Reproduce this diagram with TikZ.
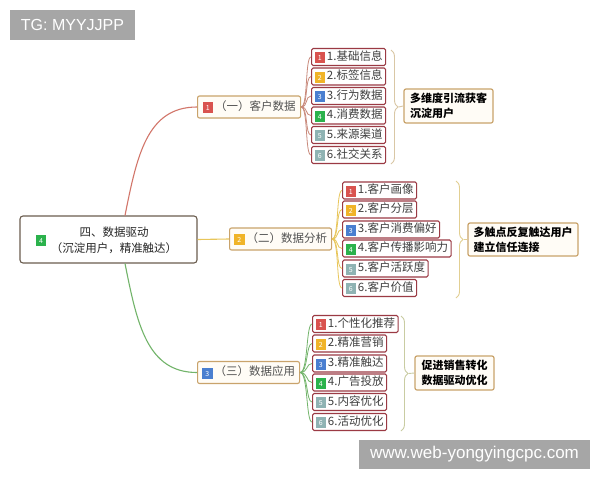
\documentclass[tikz,border=0pt]{standalone}
\usepackage{fontspec}
\setmainfont{Liberation Sans}
\newfontfamily\cjk{Noto Sans CJK SC}
\usetikzlibrary{decorations.pathreplacing}
\definecolor{bred}{HTML}{D9534F}
\definecolor{byel}{HTML}{F0B429}
\definecolor{bblue}{HTML}{4A7FD0}
\definecolor{bgreen}{HTML}{2BB24C}
\definecolor{bgray}{HTML}{8FB3B3}
\definecolor{leafborder}{HTML}{9B3A44}
\definecolor{leaftext}{HTML}{3F3F3F}
\definecolor{brborder}{HTML}{C9A36B}
\definecolor{brfill}{HTML}{FFFCF6}
\definecolor{rootborder}{HTML}{6B5D4F}
\definecolor{redline}{HTML}{D2766A}
\definecolor{yelline}{HTML}{E8C65A}
\definecolor{grnline}{HTML}{72B46A}
\definecolor{fan1c}{HTML}{C98A7C}
\definecolor{brace1c}{HTML}{D9C7A5}
\definecolor{brace2c}{HTML}{E2CF92}
\definecolor{brace3c}{HTML}{C9CCA2}
\definecolor{wmgray}{HTML}{A6A6A6}
\newcommand\bdg[2]{{\setlength{\fboxsep}{1.5pt}\raisebox{-0.5pt}{\colorbox{#1}{\makebox[7.5pt][c]{\rule[-1pt]{0pt}{8pt}\fontsize{7}{7}\selectfont\color{white}#2}}}}}
\begin{document}
\begin{tikzpicture}[x=1pt,y=-1pt,
  leaf/.style={draw=leafborder, line width=1.1pt, rounded corners=1.5pt, fill=white, anchor=west,
    minimum height=17pt, inner xsep=3pt, inner ysep=0pt, font=\cjk\fontsize{11.5}{12}\selectfont, text=leaftext},
  branch/.style={draw=brborder, line width=1.1pt, rounded corners=2pt, fill=brfill, anchor=west,
    minimum height=22pt, minimum width=103pt, inner xsep=4pt, font=\cjk\fontsize{11.5}{12}\selectfont, text=leaftext!90},
  summary/.style={draw=brborder, line width=1.2pt, rounded corners=2pt, fill=brfill, align=left,
    font=\cjk\bfseries\fontsize{11}{15}\selectfont, text=black},
  fan1/.style={fan1c, line width=0.8pt},
  fan2/.style={yelline, line width=0.8pt},
  fan3/.style={grnline, line width=0.8pt},
  bracestyle/.style={line width=0.9pt, decorate, decoration={brace, amplitude=7pt}},
  wm/.style={fill=wmgray, text=white, inner sep=0pt}
]
\fill[white] (0,0) rectangle (600,480);
\useasboundingbox (0,0) rectangle (600,480);

% watermark boxes
\node[wm, minimum width=125pt, minimum height=30pt, font=\fontsize{16}{16}\selectfont] (tg) at (72.5,25) {TG: MYYJJPP};

% root
\node[draw=rootborder, line width=1.1pt, rounded corners=3pt, fill=white, minimum width=177pt, minimum height=47pt] (root) at (108.5,239.5) {};
\node[align=center, font=\cjk\fontsize{11.5}{16}\selectfont, text=black!85] (roottext) at (114,240) {四、数据驱动\\（沉淀用户，精准触达）};
\node[inner sep=0pt] (rootbadge) at (41,240) {\bdg{bgreen}{4}};

% branches
\node[branch] (b1) at (197,107) {\bdg{bred}{1}\,（一）客户数据};
\node[branch, minimum width=102pt] (b2) at (229,239) {\bdg{byel}{2}\,（二）数据分析};
\node[branch, minimum width=102pt] (b3) at (197,372.5) {\bdg{bblue}{3}\,（三）数据应用};

\draw[redline, line width=1.1pt] ([xshift=16.5pt]root.north) .. controls +(12,-60) and +(-50,0) .. (b1.west);
\draw[yelline, line width=1.1pt] (root.east) -- (b2.west);
\draw[grnline, line width=1.1pt] ([xshift=16.5pt]root.south) .. controls +(12,60) and +(-50,0) .. (b3.west);

% leaves 1
\node[leaf] (l11) at (311,57) {\bdg{bred}{1}\,1.基础信息};
\node[leaf] (l12) at (311,76.5) {\bdg{byel}{2}\,2.标签信息};
\node[leaf] (l13) at (311,96) {\bdg{bblue}{3}\,3.行为数据};
\node[leaf] (l14) at (311,115.5) {\bdg{bgreen}{4}\,4.消费数据};
\node[leaf] (l15) at (311,135) {\bdg{bgray}{5}\,5.来源渠道};
\node[leaf] (l16) at (311,155) {\bdg{bgray}{6}\,6.社交关系};

% leaves 2
\node[leaf] (l21) at (342,190.5) {\bdg{bred}{1}\,1.客户画像};
\node[leaf] (l22) at (342,209.5) {\bdg{byel}{2}\,2.客户分层};
\node[leaf] (l23) at (342,229.5) {\bdg{bblue}{3}\,3.客户消费偏好};
\node[leaf] (l24) at (342,248.5) {\bdg{bgreen}{4}\,4.客户传播影响力};
\node[leaf] (l25) at (342,268.5) {\bdg{bgray}{5}\,5.客户活跃度};
\node[leaf] (l26) at (342,288) {\bdg{bgray}{6}\,6.客户价值};

% leaves 3
\node[leaf] (l31) at (312,324) {\bdg{bred}{1}\,1.个性化推荐};
\node[leaf] (l32) at (312,343.5) {\bdg{byel}{2}\,2.精准营销};
\node[leaf] (l33) at (312,363.5) {\bdg{bblue}{3}\,3.精准触达};
\node[leaf] (l34) at (312,382.5) {\bdg{bgreen}{4}\,4.广告投放};
\node[leaf] (l35) at (312,402) {\bdg{bgray}{5}\,5.内容优化};
\node[leaf] (l36) at (312,422) {\bdg{bgray}{6}\,6.活动优化};

% fans
\foreach \i in {1,...,6} {
  \draw[fan1] (b1.east) .. controls +(7,0) and +(-6,0) .. (l1\i.west);
  \draw[fan2] (b2.east) .. controls +(7,0) and +(-6,0) .. (l2\i.west);
  \draw[fan3] (b3.east) .. controls +(8,0) and +(-6,0) .. (l3\i.west);
}

% summaries
\node[summary, minimum width=89pt, minimum height=34pt] (sum1) at (448.5,106) {多维度引流获客\\沉淀用户};
\node[summary, minimum width=110pt, minimum height=33pt] (sum2) at (523,239.5) {多触点反复触达用户\\建立信任连接};
\node[summary, minimum width=79pt, minimum height=34pt] (sum3) at (454.5,373) {促进销售转化\\数据驱动优化};

% braces
\draw[brace1c, bracestyle] (391,50) -- (391,164);
\draw[brace2c, bracestyle] (456,181) -- (456,298);
\draw[brace3c, bracestyle] (401,316) -- (401,431);
\coordinate (t1) at (398.5,107);
\coordinate (t2) at (463.5,239.5);
\coordinate (t3) at (408.5,373.5);
\draw[brace1c, line width=0.9pt] (t1) -- (sum1.west);
\draw[brace2c, line width=0.9pt] (t2) -- (sum2.west);
\draw[brace3c, line width=0.9pt] (t3) -- (sum3.west);

\node[wm, minimum width=231pt, minimum height=29pt, font=\fontsize{17}{17}\selectfont] (url) at (474.5,454.5) {www.web-yongyingcpc.com};
\end{tikzpicture}
\end{document}
